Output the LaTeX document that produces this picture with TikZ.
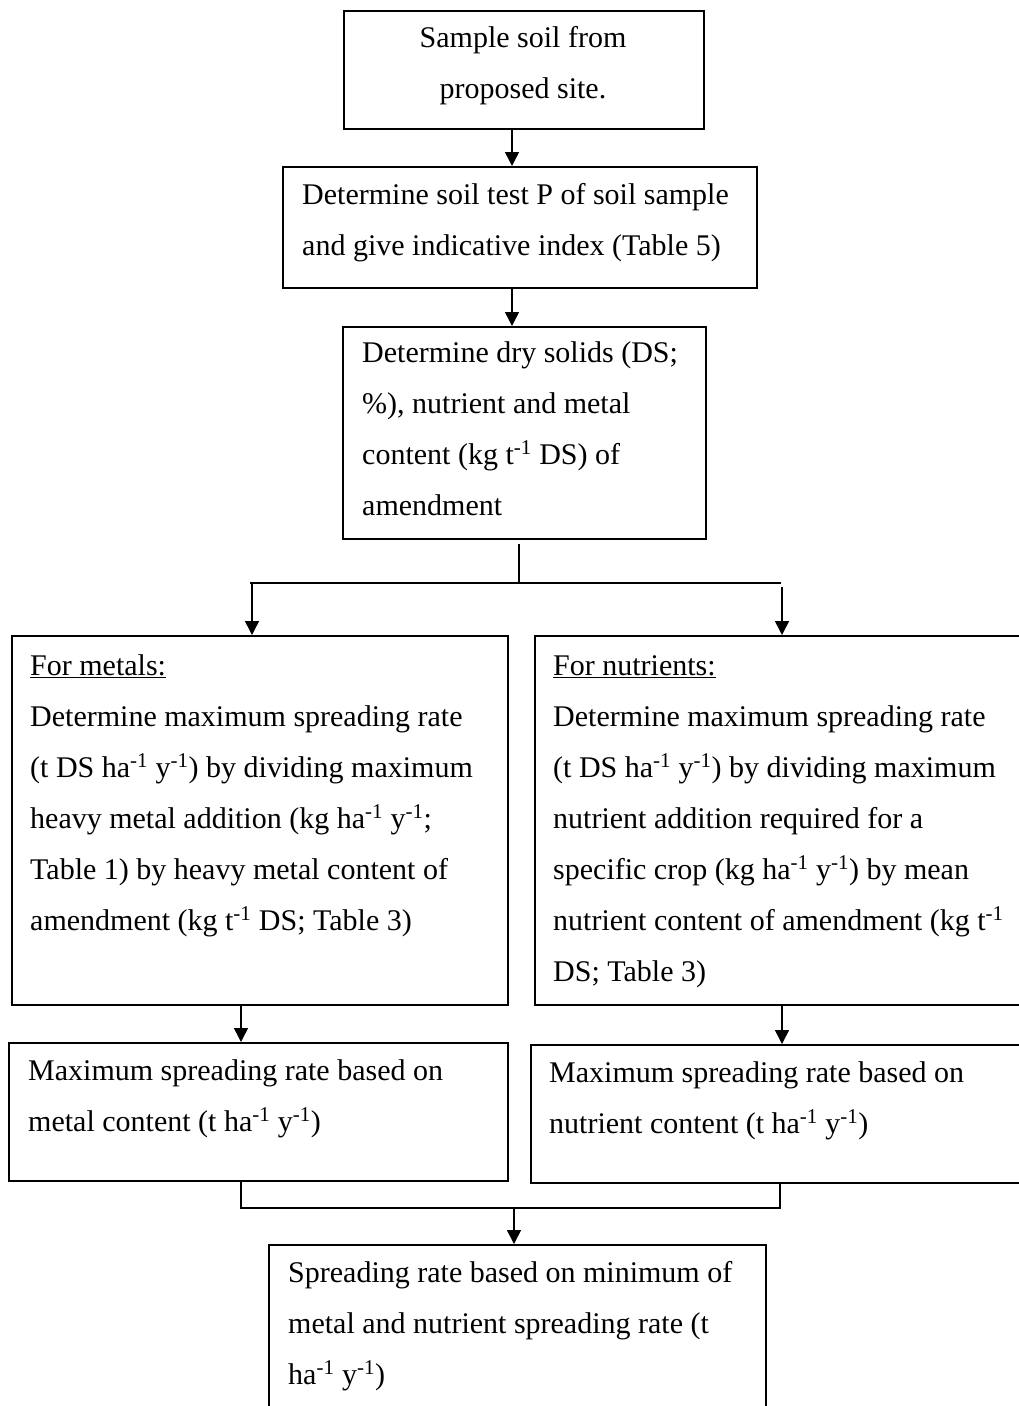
\documentclass[tikz,border=0pt]{standalone}
\usepackage{fontspec}
\setmainfont{Liberation Serif}
\usetikzlibrary{arrows.meta}
\newcommand{\sperm}{\textsuperscript{-1}}
\begin{document}
\begin{tikzpicture}[x=1pt,y=-1pt,
  box/.style={draw,line width=1.5pt,inner sep=0pt,anchor=north west},
  txt/.style={inner sep=0pt,anchor=base west,font=\fontsize{30}{51}\selectfont},
  arr/.style={line width=1.5pt,-{Triangle[width=14pt,length=14pt]}},
  conn/.style={line width=1.5pt}]
\useasboundingbox (0,0) rectangle (1019,1406);
\clip (0,0) rectangle (1019,1406);
\fill[white] (0,0) rectangle (1019,1406);

% boxes
\node[box,minimum width=360pt,minimum height=118pt] (b1) at (343,10) {};
\node[box,minimum width=474pt,minimum height=121pt] (b2) at (282,166) {};
\node[box,minimum width=363pt,minimum height=212pt] (b3) at (342,326) {};
\node[box,minimum width=496pt,minimum height=369pt] (b4) at (11,635) {};
\node[box,minimum width=496pt,minimum height=369pt] (b5) at (534,635) {};
\node[box,minimum width=499pt,minimum height=138pt] (b6) at (8,1042) {};
\node[box,minimum width=500pt,minimum height=138pt] (b7) at (530,1044) {};
\node[box,minimum width=497pt,minimum height=176pt] (b8) at (268,1244) {};

% texts
\node[txt,anchor=base] (t1) at (523,47) {\parbox[t]{340pt}{\centering Sample soil from\\proposed site.}};
\node[txt] (t2) at (302,204) {\parbox[t]{600pt}{\raggedright Determine soil test P of soil sample\\and give indicative index (Table 5)}};
\node[txt] (t3) at (362,362) {\parbox[t]{600pt}{\raggedright Determine dry solids (DS;\\\%), nutrient and metal\\content (kg t\sperm{} DS) of\\amendment}};
\node[txt] (t4) at (30,675) {\parbox[t]{600pt}{\raggedright \underline{For metals:}\\Determine maximum spreading rate\\(t DS ha\sperm{} y\sperm) by dividing maximum\\heavy metal addition (kg ha\sperm{} y\sperm;\\Table 1) by heavy metal content of\\amendment (kg t\sperm{} DS; Table 3)}};
\node[txt] (t5) at (553,675) {\parbox[t]{600pt}{\raggedright \underline{For nutrients:}\\Determine maximum spreading rate\\(t DS ha\sperm{} y\sperm) by dividing maximum\\nutrient addition required for a\\specific crop (kg ha\sperm{} y\sperm) by mean\\nutrient content of amendment (kg t\sperm\\DS; Table 3)}};
\node[txt] (t6) at (28,1080) {\parbox[t]{600pt}{\raggedright Maximum spreading rate based on\\metal content (t ha\sperm{} y\sperm)}};
\node[txt] (t7) at (549,1082) {\parbox[t]{600pt}{\raggedright Maximum spreading rate based on\\nutrient content (t ha\sperm{} y\sperm)}};
\node[txt] (t8) at (288,1282) {\parbox[t]{600pt}{\raggedright Spreading rate based on minimum of\\metal and nutrient spreading rate (t\\ha\sperm{} y\sperm)}};

% junction coordinates
\coordinate (c1) at (512,0);
\coordinate (j1) at (519,583);
\coordinate (hl) at (250,583);
\coordinate (hr) at (781,583);
\coordinate (sl) at (252,583);
\coordinate (sr) at (782,587);
\coordinate (m1) at (241,1208);
\coordinate (m2) at (780,1208);
\coordinate (mm) at (514,1208);

% connectors
\draw[arr] (b1.south -| c1) -- (b2.north -| c1);
\draw[arr] (b2.south -| c1) -- (b3.north -| c1);
\draw[conn] ([yshift=-4pt]b3.south -| j1) -- (j1);
\draw[conn] (hl) -- (hr);
\draw[arr] (sl) -- (b4.north -| sl);
\draw[arr] (sr) -- (b5.north -| sr);
\draw[arr] (b4.south -| m1) -- (b6.north -| m1);
\draw[arr] (b5.south -| sr) -- (b7.north -| sr);
\draw[conn] (b6.south -| m1) -- (m1) -- (m2) -- (b7.south -| m2);
\draw[arr] (mm) -- (b8.north -| mm);
\end{tikzpicture}
\end{document}
